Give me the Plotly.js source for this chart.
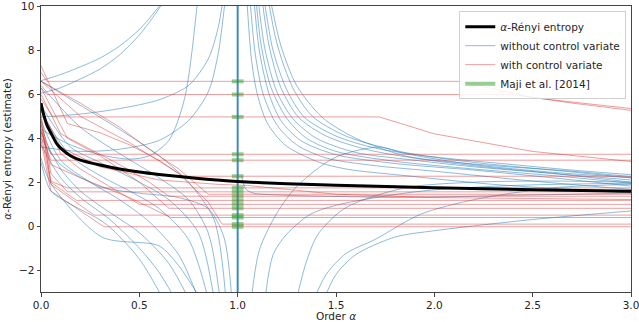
<!DOCTYPE html>
<html><head><meta charset="utf-8">
<script src="https://cdn.plot.ly/plotly-3.0.1.min.js"></script>
<style>html,body{margin:0;padding:0;background:#fff}</style>
</head><body><div id="chart" style="width:639px;height:322px"></div>
<script>
// ---- Data ----
const entropyAlpha = [0,0.01,0.03,0.05,0.08,0.1,0.15,0.2,0.3,0.4,0.5,0.6,0.8,1.0,1.25,1.5,2.0,2.5,3.0];
const entropyValue = [5.6,5.2,4.6,4.25,3.75,3.55,3.2,3.0,2.78,2.6,2.46,2.35,2.17,2.03,1.93,1.86,1.75,1.66,1.59];

// without control variate, alpha < 1 (going up)
const blueUpX = [
  [0,0.1,0.2,0.3,0.4,0.5,0.6,0.66],
  [0,0.1,0.2,0.3,0.4,0.5,0.6,0.66],
  [0,0.2,0.4,0.6,0.75,0.85,0.9,0.93],
  [0,0.15,0.3,0.45,0.55,0.65,0.73,0.8],
  [0,0.2,0.4,0.6,0.75,0.85,0.9,0.94]
];
const blueUpY = [
  [6.62,6.9,7.25,7.65,8.2,8.95,10.0,10.8],
  [6.05,6.3,6.7,7.15,7.8,8.7,9.9,10.8],
  [4.97,5.1,5.35,5.75,6.4,7.6,9.0,10.6],
  [4.4,3.7,3.25,3.05,3.2,3.9,5.8,10.6],
  [3.6,3.4,3.5,3.9,4.8,6.1,7.8,10.6]
];
// without control variate, alpha < 1 (going down)
const blueDownX = [
  [0,0.053,0.31,0.6,0.7,0.81],
  [0,0.1,0.2,0.32,0.5,0.65,0.75],
  [0,0.1,0.25,0.4,0.55,0.7,0.8],
  [0,0.15,0.3,0.45,0.6,0.75,0.85],
  [0,0.15,0.3,0.5,0.65,0.8,0.88],
  [0,0.2,0.4,0.6,0.75,0.85,0.91],
  [0,0.2,0.4,0.6,0.75,0.88,0.94],
  [0,0.1,0.2,0.35,0.5,0.6,0.68],
  [0,0.05,0.13,0.33,0.5,0.62],
  [0,0.1,0.3,0.5,0.7,0.85,0.93,0.97]
];
const blueDownY = [
  [3.1,1.9,-0.5,-0.9,-1.8,-3.3],
  [4.3,2.6,1.6,0.8,-0.3,-1.7,-3.3],
  [4.8,3.0,2.0,1.2,0.2,-1.3,-3.3],
  [5.2,3.2,2.3,1.6,0.8,-0.6,-3.3],
  [5.5,3.6,2.9,2.0,1.2,-0.3,-3.3],
  [6.4,4.5,3.3,2.2,1.2,-0.3,-3.3],
  [6.6,5.5,4.4,3.2,2.0,0.3,-3.3],
  [3.7,2.2,1.3,0.3,-1.0,-2.1,-3.3],
  [2.9,1.6,1.1,0.1,-1.5,-3.3],
  [4.0,2.8,1.8,1.5,1.3,0.8,-0.5,-3.3]
];
// without control variate, alpha > 1 (from the top)
const blueTopX = [
  [1.045,1.07,1.1,1.15,1.24,1.4,1.55,1.85,2.3,3.0],
  [1.06,1.09,1.13,1.2,1.3,1.45,1.7,2.0,2.5,3.0],
  [1.08,1.11,1.16,1.22,1.32,1.5,1.8,2.2,2.6,3.0],
  [1.09,1.12,1.17,1.25,1.35,1.5,1.8,2.2,2.6,3.0],
  [1.1,1.14,1.2,1.28,1.4,1.6,1.85,2.2,2.6,3.0],
  [1.12,1.16,1.22,1.31,1.45,1.65,1.9,2.3,2.7,3.0],
  [1.13,1.18,1.25,1.34,1.5,1.7,2.0,2.4,2.7,3.0],
  [1.15,1.2,1.28,1.38,1.55,1.85,2.2,2.6,3.0],
  [1.16,1.22,1.3,1.43,1.6,1.85,2.2,2.6,3.0]
];
const blueTopY = [
  [10.6,7.6,6.0,4.7,3.7,2.95,2.6,2.3,1.9,1.51],
  [10.6,7.8,6.0,4.6,3.7,3.1,2.75,2.5,2.05,1.67],
  [10.6,8.0,6.0,4.8,3.9,3.25,2.85,2.55,2.2,1.82],
  [10.6,8.2,6.3,4.9,4.0,3.4,2.95,2.6,2.3,1.95],
  [10.6,8.0,6.1,4.9,4.0,3.35,3.05,2.7,2.4,2.1],
  [10.6,8.2,6.3,4.95,4.1,3.5,3.1,2.75,2.5,2.25],
  [10.6,8.0,6.2,4.95,4.1,3.55,3.15,2.8,2.55,2.34],
  [10.6,8.3,6.3,5.0,4.1,3.35,2.9,2.55,2.2],
  [10.6,8.2,6.4,4.95,4.0,3.2,2.75,2.4,2.0]
];
// without control variate, alpha > 1 (from the bottom / flat)
const blueBottomX = [
  [1.07,1.11,1.2,1.3,1.49,1.72,1.85,2.2,2.6,3.0],
  [1.14,1.18,1.25,1.37,1.52,1.93,2.4,3.0],
  [1.3,1.35,1.41,1.55,1.85,2.2,2.6,3.0],
  [1.39,1.45,1.55,1.7,1.93,2.2,2.6,3.0],
  [1.44,1.5,1.6,1.8,2.0,2.5,3.0],
  [1.02,1.04,1.08,1.2,1.5,1.85,2.4,3.0]
];
const blueBottomY = [
  [-3.3,-1.1,0.6,1.8,3.1,3.6,3.3,2.8,2.45,2.2],
  [-3.3,-1.3,-0.36,0.54,0.99,1.59,1.85,1.95],
  [-3.3,-1.6,-0.35,0.84,1.74,2.0,2.05,2.0],
  [-3.3,-2.2,-1.25,-0.6,0.54,1.2,1.74,1.9],
  [-3.3,-2.2,-1.3,-0.5,-0.21,0.3,0.69],
  [2.3,1.7,1.5,1.42,1.35,1.3,1.4,1.5]
];
const poleAlpha = 1.0;

// with control variate
const redX = [
  [0,0.03,2.13,2.5,3.0],
  [0,0.03,2.4,2.7,3.0],
  [0,0.06,1.72,2.0,2.5,3.0],
  [0,0.05,3.0],
  [0,0.05,3.0],
  [0,0.134,0.3,0.45,0.6,0.72,3.0],
  [0,0.05,0.134,3.0],
  [0,0.05,0.18,3.0],
  [0,0.05,0.134,3.0],
  [0,0.05,0.27,3.0],
  [0,0.05,0.32,3.0],
  [0,0.1,0.25,0.4,0.55,0.65,3.0],
  [0,0.1,0.2,0.35,0.5,3.0],
  [0,0.134,0.3,0.5,0.65,3.0],
  [0,0.05,0.2,0.45,0.66,3.0],
  [0,0.2,0.45,0.7,0.85,0.92,3.0],
  [0,0.1,0.3,0.6,0.9,1.05,1.5,2.0,3.0],
  [0,0.2,0.4,0.55,0.7,0.85,3.0]
];
const redY = [
  [7.0,6.59,6.59,5.85,5.35],
  [6.3,5.99,5.99,5.6,5.27],
  [5.8,4.97,4.97,4.2,3.4,2.94],
  [4.6,3.27,3.27],
  [4.3,3.0,3.0],
  [7.3,4.67,4.25,3.7,3.0,2.27,2.27],
  [4.9,2.04,1.74,1.74],
  [4.7,2.0,1.17,1.17],
  [5.1,2.4,1.56,1.56],
  [4.2,1.9,0.5,0.5],
  [3.9,1.6,-0.03,-0.03],
  [6.0,4.2,3.5,2.8,2.0,1.36,1.36],
  [5.3,3.3,2.6,1.8,0.99,0.99],
  [6.3,4.0,3.2,2.0,0.81,0.81],
  [4.4,2.8,2.2,1.3,0.39,0.39],
  [6.6,5.0,3.8,2.4,1.1,0.09,0.09],
  [5.3,3.6,2.7,2.1,1.9,1.85,1.45,1.3,1.21],
  [6.6,5.6,4.5,3.5,2.6,1.45,1.45]
];

// Maji et al. [2014] estimates (at alpha = 1)
const majiValues = [6.59,5.99,4.97,3.27,3.0,2.27,1.74,1.56,1.36,1.17,0.99,0.81,0.50,0.39,0.09,-0.03];
const majiHalfWidth = 0.03;

const xTicks = [0,0.5,1,1.5,2,2.5,3];
const xTickText = ['0.0','0.5','1.0','1.5','2.0','2.5','3.0'];
const yTicks = [-2,0,2,4,6,8,10];
const yTickText = ['\u22122','0','2','4','6','8','10'];

// ---- Traces ----
const BLUE = 'rgba(31,119,180,0.5)';
const RED = 'rgba(214,39,40,0.45)';
const traces = [];
let firstBlue = true;
function addBlue(xs, ys) {
  for (let i = 0; i < xs.length; i++) {
    traces.push({x: xs[i], y: ys[i], type: 'scatter', mode: 'lines',
      line: {color: BLUE, width: 1, shape: 'spline', smoothing: 0.8},
      name: 'without control variate', legendgroup: 'blue', legendrank: 2,
      showlegend: firstBlue, hoverinfo: 'skip'});
    firstBlue = false;
  }
}
addBlue(blueUpX, blueUpY);
addBlue(blueDownX, blueDownY);
addBlue(blueTopX, blueTopY);
addBlue(blueBottomX, blueBottomY);
traces.push({x: [poleAlpha, poleAlpha], y: [-3.5, 10.5], type: 'scatter', mode: 'lines',
  line: {color: 'rgba(31,119,180,0.85)', width: 2}, showlegend: false, hoverinfo: 'skip'});

for (let i = 0; i < redX.length; i++) {
  traces.push({x: redX[i], y: redY[i], type: 'scatter', mode: 'lines',
    line: {color: RED, width: 1},
    name: 'with control variate', legendgroup: 'red', legendrank: 3,
    showlegend: i === 0, hoverinfo: 'skip'});
}

const mx = [], my = [];
majiValues.forEach(v => { mx.push(poleAlpha - majiHalfWidth, poleAlpha + majiHalfWidth, null); my.push(v, v, null); });
traces.push({x: mx, y: my, type: 'scatter', mode: 'lines',
  line: {color: 'rgba(44,160,44,0.5)', width: 4},
  name: 'Maji et al. [2014]', legendrank: 4, hoverinfo: 'skip'});

traces.push({x: entropyAlpha, y: entropyValue, type: 'scatter', mode: 'lines',
  line: {color: '#000', width: 3, shape: 'spline', smoothing: 0.6},
  name: '<i>α</i>-Rényi entropy', legendrank: 1, hoverinfo: 'skip'});

const FONT = 'DejaVu Sans, sans-serif';
const layout = {
  width: 639, height: 322,
  margin: {l: 41, r: 8, t: 6, b: 30},
  paper_bgcolor: '#fff', plot_bgcolor: '#fff',
  font: {family: FONT, size: 10.5, color: '#262626'},
  showlegend: true,
  legend: {x: 0.992, xanchor: 'right', y: 0.982, yanchor: 'top',
    bgcolor: 'rgba(255,255,255,0.85)', bordercolor: '#d0d0d0', borderwidth: 1,
    font: {family: FONT, size: 10.5, color: '#262626'}, tracegroupgap: 0, itemwidth: 30},
  xaxis: {range: [0, 3], tickvals: xTicks, ticktext: xTickText, ticks: 'outside', ticklen: 3.5,
    tickcolor: '#444', showgrid: false, zeroline: false, showline: true, linecolor: '#444',
    linewidth: 1, mirror: true, tickfont: {size: 10.5}, ticklabeloverflow: 'allow',
    title: {text: 'Order <i>α</i>', font: {family: FONT, size: 10.5, color: '#262626'}, standoff: 1}},
  yaxis: {range: [-3, 10.02], tickvals: yTicks, ticktext: yTickText, ticks: 'outside', ticklen: 3.5,
    tickcolor: '#444', showgrid: false, zeroline: false, showline: true, linecolor: '#444',
    linewidth: 1, mirror: true, tickfont: {size: 10.5}, ticklabeloverflow: 'allow',
    title: {text: '<i>α</i>-Rényi entropy (estimate)', font: {family: FONT, size: 10.5, color: '#262626'}, standoff: 5}}
};
Plotly.newPlot('chart', traces, layout, {staticPlot: true, displayModeBar: false});
</script></body></html>
